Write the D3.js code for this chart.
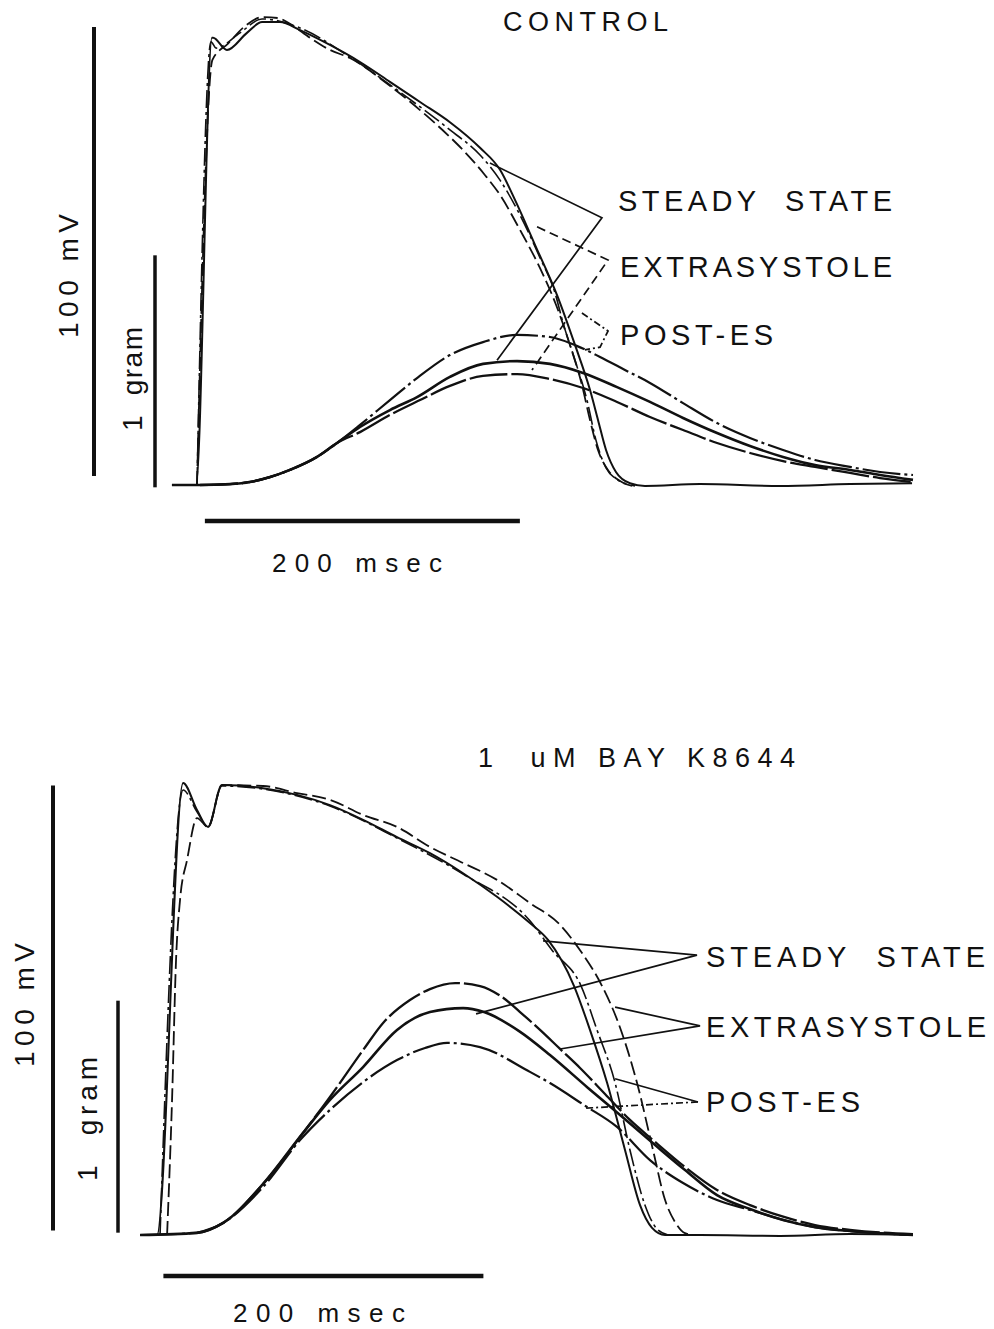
<!DOCTYPE html>
<html>
<head>
<meta charset="utf-8">
<script src="https://cdn.jsdelivr.net/npm/d3@7"></script>
<style>
  body { margin: 0; background: #fff; }
  svg text { font-family: "Liberation Sans", Arial, sans-serif; fill: #111; white-space: pre; }
</style>
</head>
<body>
<div id="fig"></div>
<script>
// trace names used for the labels
var traceNames = ["STEADY  STATE", "EXTRASYSTOLE", "POST-ES"];
var panelTitles = ["CONTROL", "1  uM BAY K8644"];

// calibration bars
var barMv = 100, barGram = 1, barMsec = 200;

// ---- CONTROL: membrane potential [msec, mV] ----
var ctrlApSteady = [[-15.9,-85],[-0.6,-85],[9.5,14.6],[10.2,14.6],[19.0,11.9],[31.7,15.7],[41.3,18.1],[52.7,18.1],[65.4,16.3],[84.4,13.0],[103.5,9.2],[122.5,4.8],[141.6,0.3],[160.6,-4.2],[179.7,-9.9],[192.4,-14.8],[201.9,-21.5],[214.6,-31.5],[228.6,-42.7],[240.0,-53.8],[249.5,-63.8],[254.6,-70.5],[259.7,-77.2],[266.0,-82.1],[274.9,-84.6],[284.4,-85.2],[319.4,-84.8],[370.2,-85.2],[414.6,-84.8],[454.0,-84.6]];
var ctrlApExtra = [[0,-85],[9.8,9.7],[19.7,13.3],[30.5,17.2],[41.3,19.2],[51.4,19.0],[59.0,17.7],[71.7,14.6],[84.4,11.9],[97.1,10.1],[122.5,3.9],[141.6,-1.5],[160.6,-7.5],[168.9,-10.4],[182.9,-16.0],[192.4,-20.4],[205.1,-28.2],[217.8,-36.7],[228.0,-44.9],[236.8,-53.8],[244.4,-62.7],[249.5,-70.5],[254.6,-77.2],[261.0,-81.7],[268.6,-84.1],[278.1,-85.2]];
var ctrlApPost = [[0,-85],[8.9,13.7],[12.1,12.3],[27.3,15.7],[41.3,18.8],[65.4,16.8],[97.1,10.3],[128.9,2.5],[160.6,-5.9],[179.7,-11.5],[192.4,-17.1],[205.1,-24.9],[217.8,-34.4],[227.3,-42.2],[232.4,-48.9],[240.0,-57.2],[247.6,-66.1],[253.3,-75.0],[259.7,-81.2],[267.3,-83.9],[276.2,-85.2]];

// ---- CONTROL: developed tension [msec, gram] ----
var ctrlForceSteady = [[-15.9,0],[1.9,0],[21.0,0.004],[33.7,0.013],[46.3,0.034],[59.0,0.065],[76.2,0.121],[88.9,0.181],[103.5,0.250],[122.5,0.323],[139.7,0.379],[160.6,0.466],[181.6,0.522],[203.2,0.534],[224.1,0.522],[245.1,0.483],[266.7,0.422],[287.6,0.358],[308.6,0.289],[330.2,0.224],[351.1,0.168],[372.1,0.121],[392.4,0.086],[414.6,0.065],[433.7,0.043],[454.6,0.022]];
var ctrlForceExtra = [[1.9,0],[21.0,0.004],[33.7,0.013],[46.3,0.034],[59.0,0.065],[76.2,0.121],[88.9,0.181],[103.5,0.228],[122.5,0.302],[141.6,0.366],[160.6,0.427],[181.6,0.470],[203.2,0.478],[224.1,0.457],[245.1,0.418],[266.7,0.358],[287.6,0.293],[308.6,0.237],[330.2,0.181],[351.1,0.138],[372.1,0.103],[392.4,0.078],[414.6,0.052],[433.7,0.030],[454.6,0.013]];
var ctrlForcePost = [[1.9,0],[21.0,0.004],[33.7,0.013],[46.3,0.034],[59.0,0.065],[76.2,0.121],[88.9,0.181],[103.5,0.259],[122.5,0.366],[139.7,0.461],[160.6,0.560],[181.6,0.616],[203.2,0.647],[224.1,0.638],[240.0,0.603],[255.9,0.552],[271.7,0.496],[287.6,0.440],[308.6,0.353],[330.2,0.267],[351.1,0.203],[372.1,0.151],[392.4,0.108],[414.6,0.078],[433.7,0.056],[454.6,0.043]];

// CONTROL leader lines [msec, mV]
var ctrlLeadSteady = [[186.0,-13.3],[257.1,-25.5],[190.5,-57.2]];
var ctrlLeadExtra = [[215.9,-27.5],[261.0,-34.9],[212.7,-59.4]];
var ctrlLeadPost = [[244.4,-46.7],[261.0,-50.7],[255.9,-54.3],[246.3,-54.9]];

// ---- BAY K8644: membrane potential [msec, mV] ----
var bayApSteady = [[-7.5,-85],[0,-85],[16.3,16.6],[25,10.5],[31.9,6.7],[40.6,16.1],[66.3,15.4],[87.5,13.9],[108.1,11.6],[128.8,8.3],[150,4.4],[170.6,0.8],[191.3,-3.7],[212.5,-9.0],[233.1,-14.9],[244.4,-18.7],[260.6,-29.0],[270.6,-38.9],[281.3,-50.8],[292.5,-65.9],[301.9,-78.3],[309.4,-83.4],[317.5,-85],[339.4,-85],[389.4,-85.2],[433.1,-84.8],[472.5,-85]];
var bayApExtra = [[6.3,-85],[9.4,-54.7],[11.9,-23.2],[14.4,-9.7],[18.8,-0.7],[25,8.7],[31.9,6.7],[40.6,16.1],[66.3,15.9],[87.5,14.3],[108.1,12.8],[128.8,9.4],[150,6.7],[170.6,2.2],[191.3,-1.4],[212.5,-5.2],[233.1,-10.4],[251.9,-15.3],[264.4,-21.0],[278.1,-29.0],[288.8,-37.8],[300,-50.8],[310,-65.9],[317.5,-77.1],[323.8,-82.1],[330,-84.6],[336.3,-85]];
var bayApPost = [[1.9,-85],[16.3,15.0],[25,10.1],[31.9,6.7],[40.6,15.9],[66.3,15.2],[108.1,11.4],[150,4.2],[191.3,-3.9],[233.1,-14.4],[246.9,-21.0],[265,-29.0],[275,-38.9],[286.3,-50.8],[295.6,-65.9],[305,-78.3],[311.9,-83.4],[319.4,-85]];

// ---- BAY K8644: developed tension [msec, gram] ----
var bayForceSteady = [[-10.6,0],[25,0.009],[41.3,0.052],[66.3,0.220],[91.3,0.440],[108.1,0.582],[128.8,0.724],[150,0.884],[170.6,0.961],[191.3,0.978],[204.4,0.961],[226.3,0.879],[245.6,0.776],[269.4,0.634],[289.4,0.517],[311.3,0.388],[330,0.280],[350,0.172],[370.6,0.112],[391.3,0.065],[411.3,0.034],[433.1,0.017],[472.5,0]];
var bayForceExtra = [[25,0.009],[41.3,0.052],[66.3,0.220],[91.3,0.440],[108.1,0.595],[128.8,0.797],[141.3,0.914],[158.1,1.013],[170.6,1.060],[186.3,1.086],[201.9,1.073],[215.6,1.026],[226.9,0.961],[239.4,0.884],[251.9,0.802],[264.4,0.720],[280,0.608],[295.6,0.496],[310,0.409],[330,0.293],[350,0.194],[370.6,0.129],[391.9,0.078],[411.3,0.043],[433.1,0.022],[472.5,0.004]];
var bayForcePost = [[-10.6,0],[25,0.009],[41.3,0.052],[66.3,0.207],[89.4,0.409],[108.1,0.539],[128.8,0.659],[150,0.754],[167.5,0.806],[181.3,0.828],[201.9,0.810],[233.1,0.703],[245.6,0.655],[266.9,0.560],[287.5,0.466],[308.1,0.323],[328.8,0.224],[350,0.151],[370.6,0.108],[391.3,0.065],[411.3,0.034],[433.1,0.017],[472.5,0]];

// BAY K8644 leader lines [msec, mV]
var bayLeadSteady = [[241.3,-18.9],[337.5,-22.1],[199.4,-35.3]];
var bayLeadExtra = [[286.3,-33.8],[339.4,-38.0],[251.9,-43.2]];
var bayLeadPost = [[286.3,-49.9],[338.1,-55.1]];
var bayLeadPost2 = [[338.1,-55.1],[267.5,-56.5]];

var width = 994, height = 1329;

var svg = d3.select("#fig").append("svg")
    .attr("width", width).attr("height", height);

// line styles: steady = solid, extrasystole = dashed, post-ES = dash-dot
// (tension traces were drawn bolder, with longer dashes)
var styles = {
    apSteady: { w: 2.0, dash: null },
    apExtra: { w: 1.8, dash: "14,5" },
    apPost: { w: 1.6, dash: "18,4,3,4" },
    fSteady: { w: 2.6, dash: null },
    fExtra: { w: 2.3, dash: "38,4" },
    fPost: { w: 2.2, dash: "38,4,3,4" }
};

var drawPanel = function (p) {
    var x = d3.scaleLinear().domain([0, 200]).range([p.x0, p.x0 + p.pxPer200]);
    var v = d3.scaleLinear().domain([-85, 15]).range([p.base, p.base - p.pxPer100mV]);
    var g = d3.scaleLinear().domain([0, 1]).range([p.base, p.base - p.pxPerGram]);

    var g0 = svg.append("g");
    var curve = d3.curveMonotoneX;
    var apLine = d3.line().x(function (d) { return x(d[0]); }).y(function (d) { return v(d[1]); }).curve(curve);
    var fLine = d3.line().x(function (d) { return x(d[0]); }).y(function (d) { return g(d[1]); }).curve(curve);
    var leadLine = d3.line().x(function (d) { return x(d[0]); }).y(function (d) { return v(d[1]); });

    var traces = [
        { d: p.apSteady, s: styles.apSteady, l: apLine },
        { d: p.apExtra, s: styles.apExtra, l: apLine },
        { d: p.apPost, s: styles.apPost, l: apLine },
        { d: p.fSteady, s: styles.fSteady, l: fLine },
        { d: p.fExtra, s: styles.fExtra, l: fLine },
        { d: p.fPost, s: styles.fPost, l: fLine }
    ];
    traces.forEach(function (t) {
        g0.append("path").attr("d", t.l(t.d))
            .attr("fill", "none").attr("stroke", "#111")
            .attr("stroke-width", t.s.w)
            .attr("stroke-linejoin", "round")
            .attr("stroke-dasharray", t.s.dash);
    });

    // leaders
    p.leaders.forEach(function (ld) {
        g0.append("path").attr("d", leadLine(ld.d))
            .attr("fill", "none").attr("stroke", "#111")
            .attr("stroke-width", 1.7)
            .attr("stroke-dasharray", ld.dash);
    });

    // calibration bars
    var bar = function (x1, y1, x2, y2, w) {
        g0.append("line").attr("x1", x1).attr("y1", y1).attr("x2", x2).attr("y2", y2)
            .attr("stroke", "#111").attr("stroke-width", w);
    };
    bar(p.mvBarX, v(-85 + p.mvBarOff), p.mvBarX, v(-85 + p.mvBarOff + barMv), 4);
    bar(p.gBarX, g(p.gBarOff), p.gBarX, g(p.gBarOff + barGram), 3.5);
    bar(x(p.msBarOff), p.msBarY, x(p.msBarOff + barMsec), p.msBarY, 4.5);

    // text
    var txt = function (s, tx, ty, size, len, rot) {
        var t = g0.append("text").text(s)
            .attr("font-size", size)
            .attr("textLength", len).attr("lengthAdjust", "spacing");
        if (rot) {
            t.attr("transform", "translate(" + tx + "," + ty + ") rotate(-90)");
        } else {
            t.attr("x", tx).attr("y", ty);
        }
        return t;
    };
    txt(p.title, p.titleX, p.titleY, 27, p.titleLen);
    txt(barMsec + " msec", p.msTextX, p.msTextY, 26, p.msTextLen);
    txt(barMv + " mV", p.mvTextX, p.mvTextY, 28, p.mvTextLen, true);
    txt(barGram + "  gram", p.gTextX, p.gTextY, 28, p.gTextLen, true);
    p.labels.forEach(function (lb, i) {
        txt(traceNames[i], lb[0], lb[1], 29, lb[2]);
    });
};

drawPanel({
    x0: 197, pxPer200: 315, base: 485, pxPer100mV: 449, pxPerGram: 232,
    apSteady: ctrlApSteady, apExtra: ctrlApExtra, apPost: ctrlApPost,
    fSteady: ctrlForceSteady, fExtra: ctrlForceExtra, fPost: ctrlForcePost,
    leaders: [
        { d: ctrlLeadSteady, dash: null },
        { d: ctrlLeadExtra, dash: "9,5" },
        { d: ctrlLeadPost, dash: "7,3,2,3" }
    ],
    mvBarX: 94, mvBarOff: 2, gBarX: 155, gBarOff: -0.01,
    msBarOff: 5, msBarY: 521,
    title: panelTitles[0], titleX: 503, titleY: 31, titleLen: 165,
    msTextX: 272, msTextY: 572, msTextLen: 170,
    mvTextX: 78, mvTextY: 338, mvTextLen: 124,
    gTextX: 142, gTextY: 431, gTextLen: 104,
    labels: [[618, 211, 274], [620, 277, 272], [620, 345, 153]]
});

drawPanel({
    x0: 157, pxPer200: 320, base: 1235, pxPer100mV: 445, pxPerGram: 232,
    apSteady: bayApSteady, apExtra: bayApExtra, apPost: bayApPost,
    fSteady: bayForceSteady, fExtra: bayForceExtra, fPost: bayForcePost,
    leaders: [
        { d: bayLeadSteady, dash: null },
        { d: bayLeadExtra, dash: null },
        { d: bayLeadPost, dash: null },
        { d: bayLeadPost2, dash: "7,3,2,3" }
    ],
    mvBarX: 53, mvBarOff: 1, gBarX: 118, gBarOff: 0.01,
    msBarOff: 4, msBarY: 1276,
    title: panelTitles[1], titleX: 478, titleY: 767, titleLen: 317,
    msTextX: 233, msTextY: 1322, msTextLen: 172,
    mvTextX: 34, mvTextY: 1067, mvTextLen: 124,
    gTextX: 97, gTextY: 1181, gTextLen: 124,
    labels: [[706, 967, 279], [706, 1037, 280], [706, 1112, 154]]
});
</script>
</body>
</html>
